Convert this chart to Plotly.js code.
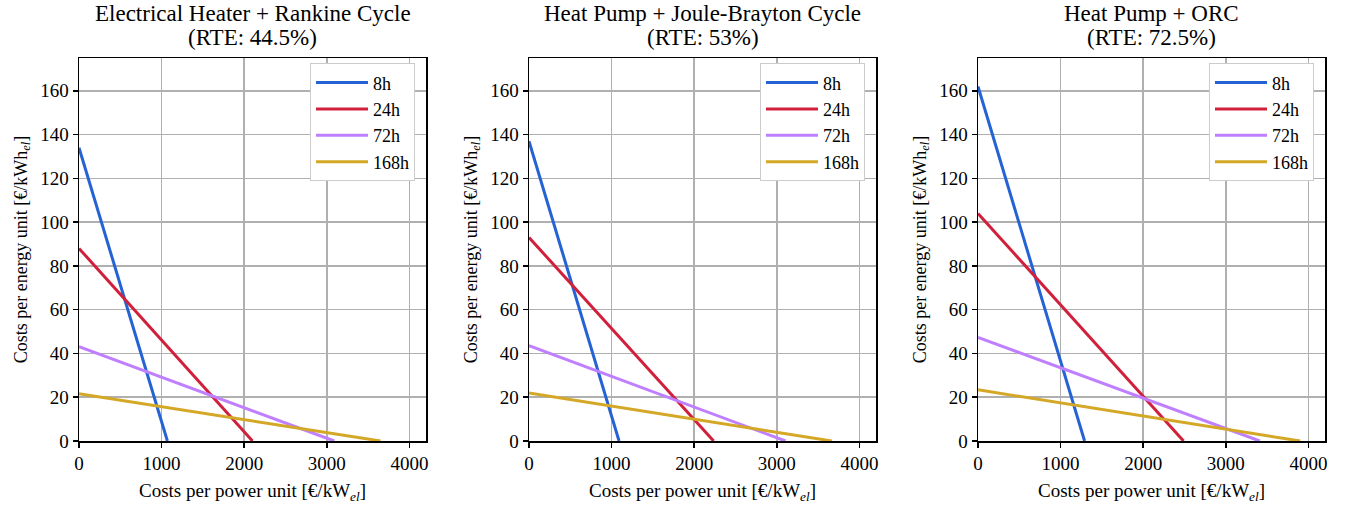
<!DOCTYPE html>
<html>
<head>
<meta charset="utf-8">
<script src="https://cdn.plot.ly/plotly-3.0.1.min.js"></script>
<style>html,body{margin:0;padding:0;background:#fff;}#chart{width:1345px;height:507px;}</style>
</head>
<body>
<div id="chart"></div>
<script>
// Panel titles (two lines each)
const panelTitleLine1 = [
  "Electrical Heater + Rankine Cycle",
  "Heat Pump + Joule-Brayton Cycle",
  "Heat Pump + ORC"
];
const panelTitleLine2 = ["(RTE: 44.5%)", "(RTE: 53%)", "(RTE: 72.5%)"];
// Storage durations (series)
const durations = ["8h", "24h", "72h", "168h"];
// Endpoints per series: x-intercept (costs per power unit) and y-intercept (costs per energy unit)
// Panel 1: Electrical Heater + Rankine
const p1PowerIntercepts  = [1070, 2100, 3090, 3650];
const p1EnergyIntercepts = [134, 88, 43.1, 21.6];
// Panel 2: Heat Pump + Joule-Brayton
const p2PowerIntercepts  = [1090, 2235, 3105, 3665];
const p2EnergyIntercepts = [137, 93, 43.6, 21.9];
// Panel 3: Heat Pump + ORC
const p3PowerIntercepts  = [1290, 2488, 3410, 3900];
const p3EnergyIntercepts = [162, 104, 47.3, 23.4];

const xTickVals = [0, 1000, 2000, 3000, 4000];
const yTickVals = [0, 20, 40, 60, 80, 100, 120, 140, 160];

const colors = ["#2563d4", "#d0203c", "#bf7fff", "#d4a826"];
const serif = "Liberation Serif, Times New Roman, serif";

const powerSets = [p1PowerIntercepts, p2PowerIntercepts, p3PowerIntercepts];
const energySets = [p1EnergyIntercepts, p2EnergyIntercepts, p3EnergyIntercepts];

const W = 1345;
const xDomains = [[79/W, 426/W], [529/W, 876/W], [978/W, 1325/W]];

const traces = [];
const legendNames = ["legend", "legend2", "legend3"];
powerSets.forEach((pw, p) => {
  const en = energySets[p];
  durations.forEach((d, i) => {
    traces.push({
      type: "scatter", mode: "lines",
      x: [0, pw[i]], y: [en[i], 0],
      name: d,
      line: {color: colors[i], width: 3},
      xaxis: p === 0 ? "x" : "x" + (p + 1),
      yaxis: p === 0 ? "y" : "y" + (p + 1),
      legend: legendNames[p],
      showlegend: true,
      hoverinfo: "skip"
    });
  });
});

const layout = {
  width: 1345, height: 507,
  margin: {l: 0, r: 0, t: 58, b: 66},
  paper_bgcolor: "#fff", plot_bgcolor: "#fff",
  font: {family: serif, size: 19, color: "#000"},
  annotations: [],
  showlegend: true
};

function axisX(p) {
  return {
    domain: xDomains[p], range: [0, 4200], anchor: p === 0 ? "y" : "y" + (p + 1),
    tickvals: xTickVals, ticktext: xTickVals.map(String),
    showgrid: true, gridcolor: "#b0b0b0", gridwidth: 1.5,
    zeroline: false, showline: true, linecolor: "#000", linewidth: 1.5, mirror: true,
    ticks: "outside", ticklen: 5, tickwidth: 1.5, tickcolor: "#000",
    tickfont: {family: serif, size: 19, color: "#000"},
    title: {text: "Costs per power unit [€/kW<sub><i>el</i></sub>]", font: {family: serif, size: 19, color: "#000"}, standoff: 10},
    fixedrange: true
  };
}
function axisY(p) {
  return {
    domain: [0, 1], range: [0, 175], anchor: p === 0 ? "x" : "x" + (p + 1),
    tickvals: yTickVals, ticktext: yTickVals.map(String),
    showgrid: true, gridcolor: "#b0b0b0", gridwidth: 1.5,
    zeroline: false, showline: true, linecolor: "#000", linewidth: 1.5, mirror: true,
    ticks: "outside", ticklen: 5, tickwidth: 1.5, tickcolor: "#000",
    tickfont: {family: serif, size: 19, color: "#000"},
    title: {text: "Costs per energy unit [€/kWh<sub><i>el</i></sub>]", font: {family: serif, size: 18, color: "#000"}, standoff: 8},
    fixedrange: true
  };
}

for (let p = 0; p < 3; p++) {
  const sx = p === 0 ? "" : String(p + 1);
  layout["xaxis" + sx] = axisX(p);
  layout["yaxis" + sx] = axisY(p);
  const cx = (xDomains[p][0] + xDomains[p][1]) / 2;
  layout.annotations.push({
    text: panelTitleLine1[p], xref: "paper", yref: "paper",
    x: cx, y: 1, yshift: 45, xanchor: "center", yanchor: "middle",
    showarrow: false, font: {family: serif, size: 23, color: "#000"}
  });
  layout.annotations.push({
    text: panelTitleLine2[p], xref: "paper", yref: "paper",
    x: cx, y: 1, yshift: 21, xanchor: "center", yanchor: "middle",
    showarrow: false, font: {family: serif, size: 23, color: "#000"}
  });
  layout[legendNames[p]] = {
    x: xDomains[p][1] - 11/W, xanchor: "right",
    y: 0.986, yanchor: "top",
    bgcolor: "#fff", bordercolor: "#cccccc", borderwidth: 1,
    font: {family: serif, size: 18, color: "#000"},
    tracegroupgap: 0, itemwidth: 52
  };
}

Plotly.newPlot("chart", traces, layout, {displayModeBar: false, staticPlot: true});
</script>
</body>
</html>
